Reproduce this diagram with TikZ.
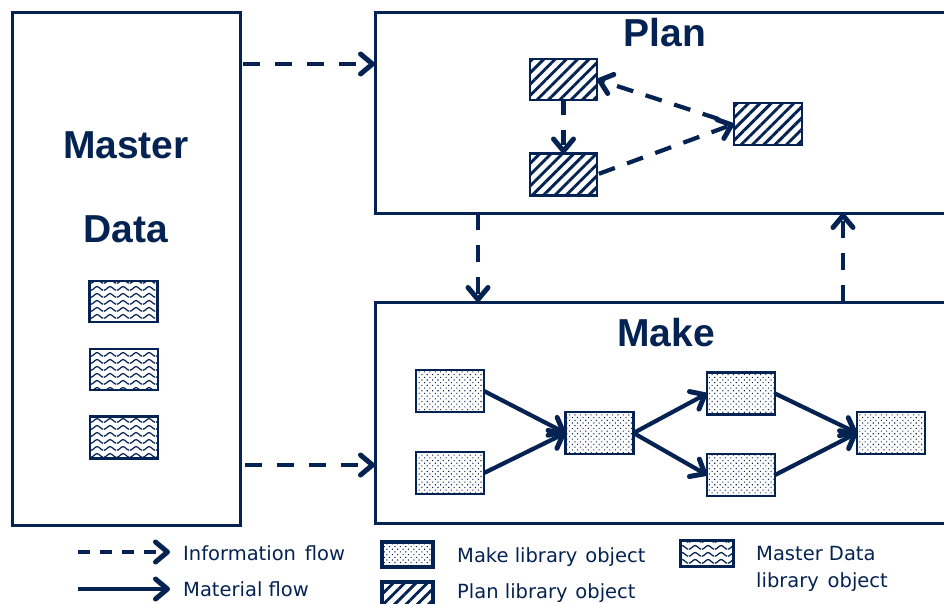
\documentclass[tikz,border=0pt]{standalone}
\usepackage{fontspec}
\setmainfont{Liberation Sans}
\newfontfamily\legfont{DejaVu Sans}
\usetikzlibrary{arrows.meta,patterns,patterns.meta}
\definecolor{navy}{RGB}{5,35,82}
\pgfdeclarepattern{
  name=mdwaves,
  type=uncolored,
  bottom left={\pgfpoint{0pt}{0pt}},
  top right={\pgfpoint{13pt}{6.6pt}},
  tile size={\pgfpoint{13pt}{6.6pt}},
  code={
    \pgfsetlinewidth{1.3pt}
    \pgfpathmoveto{\pgfpoint{0pt}{0.8pt}}
    \pgfpathcurveto{\pgfpoint{2.2pt}{0.8pt}}{\pgfpoint{4.3pt}{4.6pt}}{\pgfpoint{6.5pt}{4.6pt}}
    \pgfpathcurveto{\pgfpoint{8.7pt}{4.6pt}}{\pgfpoint{10.8pt}{0.8pt}}{\pgfpoint{13pt}{0.8pt}}
    \pgfusepath{stroke}
  }
}
\tikzset{
  bigbox/.style={draw=navy, line width=3pt, fill=white, inner sep=0pt, outer sep=0pt},
  obj/.style={draw=navy, line width=2.8pt, minimum width=68pt, minimum height=42pt, inner sep=0pt, outer sep=0pt},
  makeobj/.style={obj, pattern={Dots[distance=3.8pt, radius=0.75pt, angle=45]}, pattern color=navy},
  planobj/.style={obj, pattern={Lines[angle=45, distance=8pt, line width=2.9pt]}, pattern color=navy},
  mdobj/.style={obj, pattern=mdwaves, pattern color=navy},
  legobj/.style={minimum width=51pt, minimum height=25pt, line width=3.2pt},
  title/.style={font=\fontsize{39}{39}\selectfont\bfseries, text=navy, inner sep=0pt},
  legtext/.style={font=\legfont\fontsize{19.5}{20}\selectfont, text=navy, inner sep=0pt, anchor=base west},
  tip/.style={-{Straight Barb[length=12pt, width=20pt, line width=0.8pt 1, line cap=round, line join=round]}},
  info/.style={draw=navy, line width=4.2pt, dash pattern=on 17pt off 15pt, tip},
  mat/.style={draw=navy, line width=4.2pt, tip},
}
\begin{document}
\begin{tikzpicture}[x=1pt, y=-1pt]
\useasboundingbox (0,0) rectangle (944,603);

% main boxes
\node[bigbox, minimum width=228pt, minimum height=513pt] (master) at (126,268.5) {};
\node[bigbox, minimum width=572pt, minimum height=201pt] (plan) at (661,112.5) {};
\node[bigbox, minimum width=572pt, minimum height=221pt] (make) at (661,412.5) {};

% titles
\node[title, anchor=base] (tmaster) at (126,158) {Master};
\node[title, anchor=base] (tdata) at (126,242) {Data};
\node[title, anchor=base] (tplan) at (665,46) {Plan};
\node[title, anchor=base] (tmake) at (666,346) {Make};

% master data objects
\node[mdobj, minimum height=41pt] (d1) at (123.5,301.5) {};
\node[mdobj, minimum height=41pt] (d2) at (124,369.5) {};
\node[mdobj] (d3) at (124,437.5) {};

% plan objects
\node[planobj, minimum width=67pt, minimum height=41pt] (p1) at (563.5,79.5) {};
\node[planobj, minimum width=67pt] (p2) at (563.5,174.5) {};
\node[planobj] (p3) at (768,124) {};

% make objects
\node[makeobj] (m1) at (450,391) {};
\node[makeobj] (m2) at (450,473) {};
\node[makeobj] (m3) at (599.5,433) {};
\node[makeobj] (m4) at (741,393.5) {};
\node[makeobj] (m5) at (741,475) {};
\node[makeobj] (m6) at (891,433) {};

% information flows between areas
\draw[info, shorten <=3pt] (master.east |- 0,64) -- (plan.west |- 0,64);
\draw[info, shorten <=5pt] (master.east |- 0,465) -- (make.west |- 0,465);
\draw[info] (plan.south -| 478,0) -- (make.north -| 478,0);
\draw[info] (make.north -| 843,0) -- (plan.south -| 843,0);

% plan flows
\draw[info, dash pattern=on 15pt off 15pt] (p1.south) -- (p2.north);
\draw[info, dash pattern=on 17pt off 13pt, shorten <=2pt] (p2.east) -- (p3.west);
\draw[info, dash pattern=on 17pt off 13pt, shorten <=16pt] (p3.west) -- (p1.east);

% material flows
\draw[mat] (m1.east) -- (m3.west);
\draw[mat] (m2.east) -- (m3.west);
\draw[mat] (m3.east) -- (m4.west);
\draw[mat] (m3.east) -- (m5.west);
\draw[mat] (m4.east) -- (m6.west);
\draw[mat] (m5.east) -- (m6.west);

% legend
\coordinate (la1) at (78,552);
\coordinate (la2) at (170,552);
\coordinate (lb1) at (78,589);
\coordinate (lb2) at (170,589);
\draw[info, dash pattern=on 12pt off 10pt] (la1) -- (la2);
\draw[mat] (lb1) -- (lb2);
\node[legtext] (tinfo) at (183,560) {Information\hspace{0.45em}flow};
\node[legtext] (tmat) at (183,596) {Material flow};

\node[makeobj, legobj] (lmake) at (407.5,554.5) {};
\node[planobj, legobj] (lplan) at (407.5,594.5) {};
\node[mdobj, legobj, minimum width=53pt, minimum height=26pt] (lmd) at (707,553.5) {};
\node[legtext] (tlmake) at (457,562) {Make library\hspace{0.4em}object};
\node[legtext] (tlplan) at (457,598) {Plan library\hspace{0.4em}object};
\node[legtext] (tlmd1) at (756,560) {Master Data};
\node[legtext] (tlmd2) at (756,587) {library\hspace{0.45em}object};
\end{tikzpicture}
\end{document}
